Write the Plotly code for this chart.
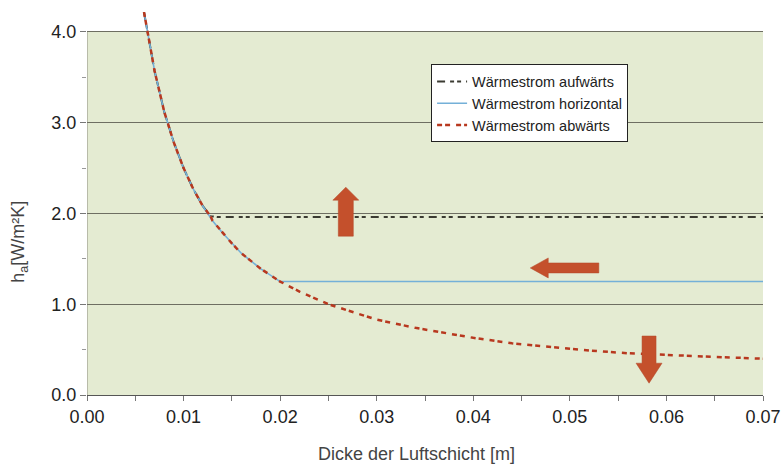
import plotly.graph_objects as go

# ---- data ----
d_curve = [0.0059, 0.007, 0.008, 0.009, 0.010, 0.011, 0.012, 0.0128, 0.013, 0.014, 0.015,
           0.016, 0.018, 0.020, 0.022, 0.025, 0.028, 0.030, 0.034, 0.040, 0.044,
           0.048, 0.052, 0.056, 0.060, 0.065, 0.070]
h_down = [4.22, 3.57, 3.12, 2.78, 2.50, 2.27, 2.08, 1.97, 1.92, 1.79, 1.67,
          1.56, 1.39, 1.25, 1.14, 1.00, 0.90, 0.83, 0.74, 0.63, 0.57,
          0.53, 0.49, 0.46, 0.44, 0.42, 0.40]

d_up = [0.0059, 0.007, 0.008, 0.009, 0.010, 0.011, 0.012, 0.0128, 0.0136, 0.070]
h_up = [4.22, 3.57, 3.12, 2.78, 2.50, 2.27, 2.08, 1.97, 1.96, 1.96]

d_hor = [0.0059, 0.007, 0.008, 0.009, 0.010, 0.011, 0.012, 0.013, 0.014, 0.015,
         0.016, 0.018, 0.020, 0.070]
h_hor = [4.22, 3.57, 3.12, 2.78, 2.50, 2.27, 2.08, 1.92, 1.79, 1.67,
         1.56, 1.39, 1.25, 1.25]

series_names = ["Wärmestrom aufwärts", "Wärmestrom horizontal", "Wärmestrom abwärts"]

# arrows: tip (x, y), tail (x, y) in data units
arrow_tips = [(0.0268, 2.29), (0.0459, 1.40), (0.0582, 0.13)]
arrow_tails = [(0.0268, 1.75), (0.0530, 1.40), (0.0582, 0.65)]

FONT = "Arial, Liberation Sans, sans-serif"

W, H = 782, 466
ML, MR, MT, MB = 87, 19, 12, 71
XR = [0, 0.07]
YR = [0, 4.22]
px_x = (W - ML - MR) / (XR[1] - XR[0])   # pixels per data unit
px_y = (H - MT - MB) / (YR[1] - YR[0])

# arrow geometry (pixels): shaft width, head width, head length
arrow_geom = [(15, 26, 13), (10, 20, 18), (14, 26, 20)]


def arrow_path(tip, tail, shaft_w, head_w, head_len):
    # work in pixel space, convert back to data
    tx, ty = tip[0] * px_x, tip[1] * px_y
    bx, by = tail[0] * px_x, tail[1] * px_y
    L = ((tx - bx) ** 2 + (ty - by) ** 2) ** 0.5
    ux, uy = (tx - bx) / L, (ty - by) / L
    nx, ny = -uy, ux
    hx, hy = tx - ux * head_len, ty - uy * head_len
    pts = [
        (bx + nx * shaft_w / 2, by + ny * shaft_w / 2),
        (hx + nx * shaft_w / 2, hy + ny * shaft_w / 2),
        (hx + nx * head_w / 2, hy + ny * head_w / 2),
        (tx, ty),
        (hx - nx * head_w / 2, hy - ny * head_w / 2),
        (hx - nx * shaft_w / 2, hy - ny * shaft_w / 2),
        (bx - nx * shaft_w / 2, by - ny * shaft_w / 2),
    ]
    return "M " + " L ".join(f"{px / px_x:.6f},{py / px_y:.5f}" for px, py in pts) + " Z"


fig = go.Figure()
fig.add_trace(go.Scatter(x=d_up, y=h_up, mode="lines", name=series_names[0],
                         line=dict(color="#3b3b32", width=2, dash="8px,5px,4px,3px,4px,5px")))
fig.add_trace(go.Scatter(x=d_hor, y=h_hor, mode="lines", name=series_names[1],
                         line=dict(color="#74b0d8", width=1.6)))
fig.add_trace(go.Scatter(x=d_curve, y=h_down, mode="lines", name=series_names[2],
                         line=dict(color="#b8381f", width=2.5, dash="5px,3px,5px,6px")))

# green plot background (only up to 4.0)
fig.add_shape(type="rect", xref="x", yref="y", x0=0, x1=0.07, y0=0, y1=4.0,
              fillcolor="#e4ebd2", line=dict(width=0), layer="below")
fig.add_shape(type="line", xref="x", yref="y", x0=0, x1=0, y0=0, y1=4.0,
              line=dict(color="#8c8c80", width=1), layer="below")

for tip, tail, g in zip(arrow_tips, arrow_tails, arrow_geom):
    fig.add_shape(type="path", xref="x", yref="y", path=arrow_path(tip, tail, *g),
                  fillcolor="#c4502c", line=dict(color="#b3482a", width=0.5), layer="above")

fig.add_annotation(text="h<sub>a</sub>[W/m²K]", xref="paper", yref="y", x=-0.099, y=1.69,
                   xanchor="center", yanchor="middle", textangle=-90, showarrow=False,
                   font=dict(family=FONT, size=18, color="#444444"))
fig.add_annotation(text="Dicke der Luftschicht [m]", xref="paper", yref="paper",
                   x=0.487, y=-0.155, xanchor="center", yanchor="middle", showarrow=False,
                   font=dict(family=FONT, size=18, color="#444444"))

fig.update_layout(
    width=W, height=H,
    margin=dict(l=ML, r=MR, t=MT, b=MB, autoexpand=False),
    paper_bgcolor="white", plot_bgcolor="rgba(0,0,0,0)",
    font=dict(family=FONT, color="#222222"),
    showlegend=True,
    legend=dict(x=0.509, y=0.863, xanchor="left", yanchor="top",
                bgcolor="white", bordercolor="#222222", borderwidth=1,
                font=dict(family=FONT, size=14.5, color="#222222"),
                itemwidth=30, tracegroupgap=0),
)
fig.update_xaxes(range=XR, dtick=0.01, tick0=0, tickformat=".2f", automargin=False,
                 showgrid=False, zeroline=False, showline=True, linecolor="#555555",
                 ticks="outside", ticklen=5, tickcolor="#777777",
                 tickfont=dict(family=FONT, size=18, color="#222222"),
                 minor=dict(dtick=0.005, ticks="outside", ticklen=5, tickcolor="#777777"))
fig.update_yaxes(range=YR, dtick=1, tick0=0, tickformat=".1f", automargin=False,
                 showgrid=True, gridcolor="#6e6e62", gridwidth=1, zeroline=False,
                 showline=False, ticks="outside", ticklen=6, tickcolor="#777777",
                 tickfont=dict(family=FONT, size=18, color="#222222"),
                 minor=dict(dtick=0.5, ticks="outside", ticklen=4, tickcolor="#999999",
                            showgrid=False))

fig.write_html("out.html", config={"displayModeBar": False},
               post_script="document.body.style.margin='0px';")
